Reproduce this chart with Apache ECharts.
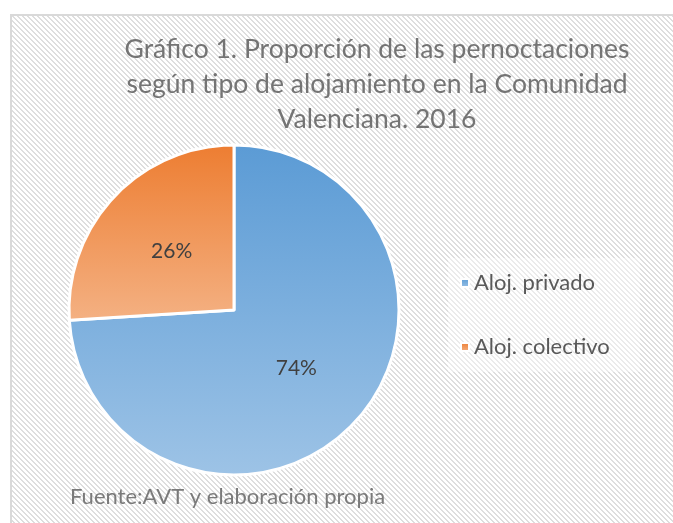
<!DOCTYPE html>
<html>
<head>
<meta charset="utf-8">
<script src="https://cdn.jsdelivr.net/npm/echarts@6/dist/echarts.min.js"></script>
<style>
  html, body { margin: 0; padding: 0; background: #fff; }
  #chart {
    position: absolute;
    left: 10px;
    top: 14px;
    width: 663px;
    height: 509px;
    border-left: 2px solid #d9d9d9;
    border-top: 2px solid #d9d9d9;
  }
</style>
</head>
<body>
<div id="chart"></div>
<script>
const categories = ['Aloj. privado', 'Aloj. colectivo']
const shares = [74, 26]
const titleText = 'Gráfico 1. Proporción de las pernoctaciones\nsegún tipo de alojamiento en la Comunidad\nValenciana. 2016'
const sourceText = 'Fuente:AVT y elaboración propia'

// trama diagonal del fondo
function hatch () {
  const c = document.createElement('canvas')
  c.width = 5
  c.height = 5
  const ctx = c.getContext('2d')
  const img = ctx.createImageData(5, 5)
  for (let y = 0; y < 5; y++) {
    for (let x = 0; x < 5; x++) {
      const d = ((x - y) % 5 + 5) % 5
      const v = d < 2 ? 222 : 255
      const i = (y * 5 + x) * 4
      img.data[i] = v
      img.data[i + 1] = v
      img.data[i + 2] = v
      img.data[i + 3] = 255
    }
  }
  ctx.putImageData(img, 0, 0)
  return c
}

const gradients = [
  new echarts.graphic.LinearGradient(0, 0, 0, 1, [
    { offset: 0, color: '#5b9bd5' },
    { offset: 1, color: '#9dc3e6' }
  ]),
  new echarts.graphic.LinearGradient(0, 0, 0, 1, [
    { offset: 0, color: '#ed7d31' },
    { offset: 1, color: '#f4b183' }
  ])
]

const font = 'Lato, "Open Sans", sans-serif'
const myChart = echarts.init(document.getElementById('chart'))
const option = {
  backgroundColor: { image: hatch(), repeat: 'repeat' },
  animation: false,
  graphic: [
    {
      type: 'text',
      x: 365,
      y: 16,
      style: {
        text: titleText,
        fill: '#747474',
        font: '26.5px ' + font,
        lineHeight: 35,
        align: 'center'
      }
    },
    {
      type: 'text',
      x: 58,
      y: 470,
      style: {
        text: sourceText,
        fill: '#7a7a7a',
        font: '22px ' + font
      }
    }
  ],
  legend: {
    orient: 'vertical',
    left: 436,
    top: 242,
    padding: [14, 30, 14, 12],
    backgroundColor: 'rgba(255,255,255,0.4)',
    icon: 'rect',
    itemWidth: 8,
    itemHeight: 8,
    itemGap: 42,
    textStyle: {
      color: '#595959',
      fontSize: 22,
      fontFamily: font,
      lineHeight: 22
    },
    data: categories
  },
  series: [{
    type: 'pie',
    center: [222, 294],
    radius: 165,
    startAngle: 90,
    clockwise: true,
    label: {
      position: 'inside',
      formatter: '{c}%',
      color: '#404040',
      fontSize: 21,
      fontFamily: font
    },
    labelLine: { show: false },
    itemStyle: {
      borderColor: '#fff',
      borderWidth: 3
    },
    data: categories.map((name, i) => ({
      name: name,
      value: shares[i],
      itemStyle: { color: gradients[i] }
    }))
  }]
}
myChart.setOption(option)
</script>
</body>
</html>
